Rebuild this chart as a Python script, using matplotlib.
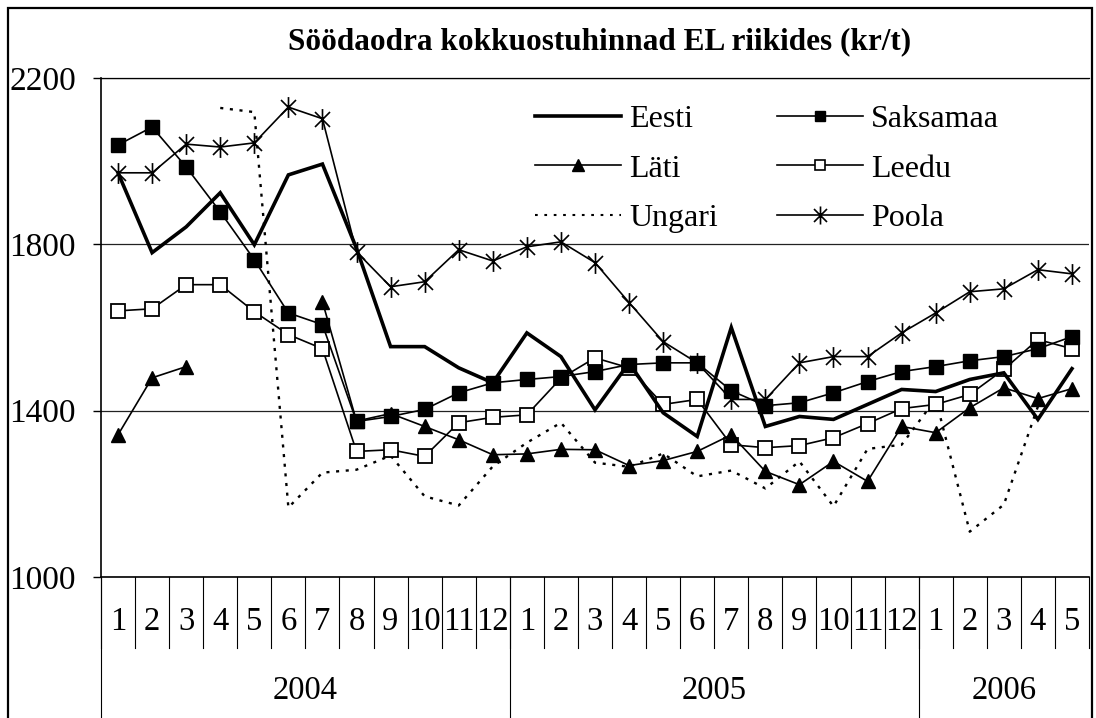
import numpy as np
import matplotlib
matplotlib.use("Agg")
import matplotlib.pyplot as plt
from matplotlib.path import Path
from matplotlib.lines import Line2D
from matplotlib.patches import Rectangle

nan = np.nan

title = "Söödaodra kokkuostuhinnad EL riikides (kr/t)"
months = [str(m) for m in range(1, 13)] + [str(m) for m in range(1, 13)] + [str(m) for m in range(1, 6)]
years = ["2004", "2005", "2006"]
year_lengths = [12, 12, 5]

eesti = [1972, 1780, 1842, 1924, 1799, 1967, 1993, 1790, 1554, 1554, 1503, 1467,
         1587, 1530, 1402, 1515, 1395, 1338, 1600, 1362, 1386, 1379, 1415, 1451,
         1446, 1475, 1491, 1379, 1501]
saksamaa = [2039, 2082, 1986, 1878, 1763, 1635, 1607, 1374, 1386, 1403, 1443, 1467,
            1475, 1482, 1494, 1511, 1515, 1515, 1448, 1412, 1419, 1443, 1470, 1494,
            1506, 1520, 1530, 1549, 1578]
lati = [1342, 1479, 1506, nan, nan, nan, 1662, 1375, 1393, 1362, 1330, 1294,
        1296, 1307, 1306, 1268, 1280, 1302, 1342, 1254, 1222, 1278, 1230, 1362,
        1347, 1407, 1455, 1429, 1453]
leedu = [1640, 1645, 1703, 1703, 1638, 1583, 1549, 1302, 1306, 1290, 1371, 1384,
         1390, 1478, 1527, 1503, 1415, 1427, 1318, 1311, 1316, 1335, 1369, 1405,
         1415, 1439, 1499, 1571, 1549]
ungari = [nan, nan, nan, 2128, 2118, 1167, 1251, 1258, 1292, 1194, 1172, 1266,
          1323, 1371, 1275, 1265, 1297, 1242, 1256, 1213, 1278, 1170, 1308, 1318,
          1428, 1109, 1174, 1410, nan]
poola = [1972, 1972, 2041, 2034, 2044, 2130, 2102, 1782, 1698, 1710, 1787, 1760,
         1794, 1806, 1756, 1660, 1566, 1515, 1427, 1427, 1515, 1530, 1530, 1587,
         1635, 1686, 1693, 1739, 1729]

plt.rcParams['font.family'] = ['Liberation Serif', 'DejaVu Serif']

W, H = 1096, 718
fig = plt.figure(figsize=(W / 100, H / 100), dpi=100)

# plot area in pixels
L, R, T, B = 101, 1089, 78, 577
ax = fig.add_axes([L / W, 1 - B / H, (R - L) / W, (B - T) / H])

x = np.arange(len(months))

star = Path([(0, -1), (0, 1), (-0.72, -0.72), (0.72, 0.72), (-0.72, 0.72), (0.72, -0.72)],
            [Path.MOVETO, Path.LINETO, Path.MOVETO, Path.LINETO, Path.MOVETO, Path.LINETO])

k = 'black'
ax.plot(x, ungari, color=k, lw=1.7, linestyle=(0, (1.3, 2.8)), zorder=2)
ax.plot(x, leedu, color=k, lw=1.2, marker='s', markersize=10.5, markerfacecolor='white',
        markeredgecolor=k, markeredgewidth=1.3, zorder=3)
ax.plot(x, lati, color=k, lw=1.2, marker='^', markersize=10.5, markerfacecolor=k,
        markeredgecolor=k, zorder=3)
ax.plot(x, saksamaa, color=k, lw=1.2, marker='s', markersize=9.5, markerfacecolor=k,
        markeredgecolor=k, zorder=3)
ax.plot(x, poola, color=k, lw=1.2, marker=star, markersize=15, markerfacecolor='none',
        markeredgecolor=k, markeredgewidth=1.2, zorder=3)
ax.plot(x, eesti, color=k, lw=2.6, zorder=4, solid_joinstyle='miter')

ax.set_xlim(-0.5, len(months) - 0.5)
ax.set_ylim(1000, 2200)
ax.set_yticks([1000, 1400, 1800, 2200])
ax.tick_params(axis='y', direction='out', length=6, width=1, labelsize=24, pad=12)
ax.set_xticks([])
ax.yaxis.grid(True, color='#222222', lw=0.9)
ax.set_axisbelow(True)
ax.spines['right'].set_visible(False)
ax.spines['top'].set_linewidth(0.9)
ax.spines['left'].set_linewidth(1.2)
ax.spines['bottom'].set_linewidth(1.2)

# category axis: month labels, separators, years
xt = ax.get_xaxis_transform()
sep_short = -(648 - B) / (B - T)
sep_long = -(H - B + 5) / (B - T)
for i in range(len(months) + 1):
    ax.add_line(Line2D([i - 0.5, i - 0.5], [0, sep_short], transform=xt, color=k, lw=0.8,
                       clip_on=False))
for i, m in enumerate(months):
    ax.text(i, -(622 - B) / (B - T), m, transform=xt, ha='center', va='center', fontsize=23.5)
start = 0
for yname, n in zip(years, year_lengths):
    ax.add_line(Line2D([start - 0.5, start - 0.5], [0, sep_long], transform=xt, color=k,
                       lw=0.8, clip_on=False))
    ax.text(start + n / 2 - 0.5, -(691 - B) / (B - T), yname, transform=xt, ha='center',
            va='center', fontsize=23.5)
    start += n

# title
fig.text(600 / W, 1 - 42 / H, title, ha='center', va='center', fontsize=22.5,
         fontweight='bold')

# legend with proxy handles
h_eesti = Line2D([], [], color=k, lw=2.6)
h_lati = Line2D([], [], color=k, lw=1.2, marker='^', markersize=8, markerfacecolor=k)
h_ungari = Line2D([], [], color=k, lw=1.5, linestyle=(0, (1.3, 3.2)))
h_saks = Line2D([], [], color=k, lw=1.2, marker='s', markersize=6.5, markerfacecolor=k)
h_leedu = Line2D([], [], color=k, lw=1.2, marker='s', markersize=7.5, markerfacecolor='white',
                 markeredgewidth=1.2)
h_poola = Line2D([], [], color=k, lw=1.2, marker=star, markersize=13,
                 markeredgewidth=1.2)
leg = fig.legend([h_eesti, h_lati, h_ungari, h_saks, h_leedu, h_poola],
                 ['Eesti', 'Läti', 'Ungari', 'Saksamaa', 'Leedu', 'Poola'],
                 ncol=2, frameon=False, fontsize=23, loc='upper left',
                 bbox_to_anchor=(535 / W, 1 - 105 / H), borderpad=0, borderaxespad=0,
                 handlelength=2.7, handletextpad=0.25, columnspacing=1.85,
                 labelspacing=0.62)

# outer frame
fig.patches.append(Rectangle((8 / W, -0.05), (1092 - 8) / W, 1.05 - 8 / H,
                             transform=fig.transFigure, fill=False, edgecolor=k, lw=1.6))

fig.savefig('out.png', dpi=100)
